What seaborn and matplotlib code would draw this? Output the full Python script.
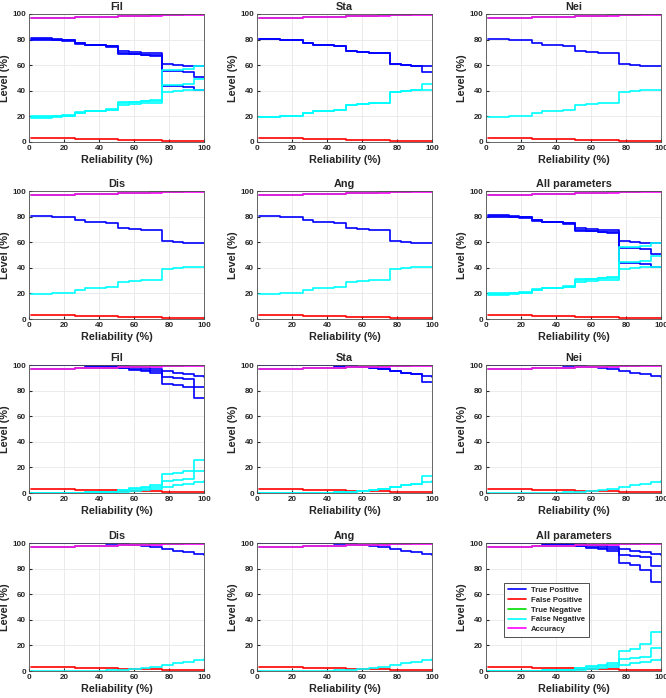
import matplotlib
matplotlib.use("Agg")
import matplotlib.pyplot as plt
import seaborn as sns

# Reliability breakpoints (%) shared by all step curves
X = [1, 13, 19, 26, 32, 44, 51, 57, 64, 69, 76, 82, 88, 94, 100]

# Curves common to every panel
FP = [3.2, 3.2, 3.1, 2.5, 2.3, 2.1, 1.5, 1.4, 1.3, 1.2, 0.7, 0.6, 0.5, 0.5, 0.5]
TN = [96.8, 96.8, 96.9, 97.6, 97.8, 98.0, 98.6, 98.7, 98.8, 98.9, 99.5, 99.6, 99.7, 99.7, 99.7]
ACC = [96.5, 96.5, 96.6, 97.4, 97.5, 97.6, 98.2, 98.3, 98.4, 98.5, 99.0, 99.0, 99.1, 99.1, 99.1]

# Upper block (rows 1-2): true positive / false negative curves
TP_UP = [80.5, 80, 79.5, 77, 76, 75, 71, 70, 69.5, 69.5, 61, 60.5, 59.5, 59.5, 59.5]
FN_UP = [19.5, 20, 20.5, 23, 24, 25, 29, 30, 30.5, 30.5, 39, 39.5, 40.5, 40.5, 40.5]
TP_UP_STA = [80.5, 80, 79.5, 77, 76, 75, 71, 70, 69.5, 69.5, 61, 60.5, 59.5, 55, 55]
FN_UP_STA = [19.5, 20, 20.5, 23, 24, 25, 29, 30, 30.5, 30.5, 39, 39.5, 40.5, 45, 45]
TP_UP_FIL_B = [80, 79.5, 79, 76.5, 75.5, 74.5, 69, 68.5, 68, 68, 55.5, 55.5, 55, 50.5, 50.5]
FN_UP_FIL_B = [20, 20.5, 21, 23.5, 24.5, 25.5, 31, 31.5, 32, 32, 44.5, 44.5, 45, 49.5, 49.5]
TP_UP_FIL_C = [81, 80.5, 80, 77.5, 76, 75, 69.5, 68.5, 68, 67.5, 44, 43.5, 43, 40.5, 40.5]
FN_UP_FIL_C = [19, 19.5, 20, 22.5, 24, 25, 30.5, 31.5, 32, 32.5, 56, 56.5, 57, 59.5, 59.5]

# Lower block (rows 3-4)
TP_LO = [100, 100, 100, 100, 99.8, 99.5, 99, 98.5, 98, 97, 95, 94, 93, 91.5, 91]
FN_LO = [0, 0, 0, 0, 0.2, 0.5, 1, 1.5, 2, 3, 5, 6, 7, 8.5, 9]
TP_LO_STA = [100, 100, 100, 100, 99.8, 99.5, 99, 98.5, 98, 97, 95, 94, 93, 87, 87]
FN_LO_STA = [0, 0, 0, 0, 0.2, 0.5, 1, 1.5, 2, 3, 5, 6, 7, 13, 13]
TP_LO_FIL_B = [100, 100, 100, 100, 99.5, 99, 98, 97, 96, 95, 91, 90, 89, 83, 83]
FN_LO_FIL_B = [0, 0, 0, 0, 0.5, 1, 2, 3, 4, 5, 9, 10, 11, 17, 17]
TP_LO_FIL_C = [100, 100, 100, 99.8, 99.5, 99, 97.5, 96, 95, 94, 85, 84, 83, 74.5, 74.5]
FN_LO_FIL_C = [0, 0, 0, 0.2, 0.5, 1, 2.5, 4, 5, 6, 15, 16, 17, 25.5, 25.5]
TP_LO_ALL_B = [100, 100, 100, 100, 99.5, 99, 98, 97, 96, 95, 91, 90, 89, 82, 82]
FN_LO_ALL_B = [0, 0, 0, 0, 0.5, 1, 2, 3, 4, 5, 9, 10, 11, 18, 18]
TP_LO_ALL_C = [100, 100, 100, 99.8, 99.5, 99, 97.5, 96, 95, 94, 84, 83, 79, 69.5, 69.5]
FN_LO_ALL_C = [0, 0, 0, 0.2, 0.5, 1, 2.5, 4, 5, 6, 16, 17, 21, 30.5, 30.5]

TITLES = ["Fil", "Sta", "Nei", "Dis", "Ang", "All parameters"] * 2
PANEL_TP = [
    [TP_UP, TP_UP_FIL_B, TP_UP_FIL_C], [TP_UP, TP_UP_STA], [TP_UP],
    [TP_UP], [TP_UP], [TP_UP, TP_UP_FIL_B, TP_UP_FIL_C],
    [TP_LO, TP_LO_FIL_B, TP_LO_FIL_C], [TP_LO, TP_LO_STA], [TP_LO],
    [TP_LO], [TP_LO], [TP_LO, TP_LO_ALL_B, TP_LO_ALL_C],
]
PANEL_FN = [
    [FN_UP, FN_UP_FIL_B, FN_UP_FIL_C], [FN_UP, FN_UP_STA], [FN_UP],
    [FN_UP], [FN_UP], [FN_UP, FN_UP_FIL_B, FN_UP_FIL_C],
    [FN_LO, FN_LO_FIL_B, FN_LO_FIL_C], [FN_LO, FN_LO_STA], [FN_LO],
    [FN_LO], [FN_LO], [FN_LO, FN_LO_ALL_B, FN_LO_ALL_C],
]
LEGEND_LABELS = ["True Positive", "False Positive", "True Negative",
                 "False Negative", "Accuracy"]

sns.set_style("whitegrid")
plt.rcParams["font.family"] = ["Liberation Sans", "DejaVu Sans"]
plt.rcParams["font.weight"] = "bold"

W, H = 666, 698
fig = plt.figure(figsize=(W / 100, H / 100), dpi=100)

col_left = [29, 257, 486]
row_top = [14, 191, 365, 543]
ax_w, ax_h = 175, 128

blue, red, green, cyan, magenta = "#0000ff", "#ff0000", "#00dd00", "#00ffff", "#ff00ff"

for i, title in enumerate(TITLES):
    r, c = divmod(i, 3)
    left = col_left[c] / W
    bottom = 1 - (row_top[r] + ax_h) / H
    ax = fig.add_axes([left, bottom, ax_w / W, ax_h / H])

    kw = dict(drawstyle="steps-post", linewidth=1.2, ax=ax, legend=False)
    for tp in PANEL_TP[i]:
        sns.lineplot(x=X, y=tp, color=blue, **kw)
    sns.lineplot(x=X, y=FP, color=red, **kw)
    sns.lineplot(x=X, y=TN, color=green, **kw)
    for fn in PANEL_FN[i]:
        sns.lineplot(x=X, y=fn, color=cyan, **kw)
    sns.lineplot(x=X, y=ACC, color=magenta, **kw)

    ax.set_xlim(0, 100)
    ax.set_ylim(0, 100)
    ax.set_xticks(range(0, 101, 20))
    ax.set_yticks(range(0, 101, 20))
    ax.tick_params(labelsize=5.8, pad=2, length=2, direction="in",
                   colors="#262626", bottom=True, left=True)
    for lab in ax.get_xticklabels() + ax.get_yticklabels():
        lab.set_fontweight("bold")
    ax.grid(True, color="#e8e8e8", linewidth=0.6)
    for sp in ax.spines.values():
        sp.set_color("#4d4d4d")
        sp.set_linewidth(0.6)
    ax.set_title(title, fontsize=7.8, fontweight="bold", pad=3)
    ax.set_xlabel("Reliability (%)", fontsize=7.8, fontweight="bold", labelpad=2)
    ax.set_ylabel("Level (%)", fontsize=7.8, fontweight="bold", labelpad=2)

    if i == len(TITLES) - 1:
        lines = ax.get_lines()
        n_tp = len(PANEL_TP[i])
        n_fn = len(PANEL_FN[i])
        handles = [lines[0], lines[n_tp], lines[n_tp + 1],
                   lines[n_tp + 2], lines[n_tp + 2 + n_fn]]
        leg = ax.legend(handles, LEGEND_LABELS, loc="upper left",
                        bbox_to_anchor=(0.08, 0.72),
                        frameon=True, fancybox=False, borderpad=0.5,
                        labelspacing=0.3, handlelength=2.4, handletextpad=0.6,
                        prop={"weight": "bold", "size": 5.6})
        leg.get_frame().set_edgecolor("#333333")
        leg.get_frame().set_linewidth(0.6)
        leg.get_frame().set_alpha(1)

fig.savefig("out.png", dpi=100)
